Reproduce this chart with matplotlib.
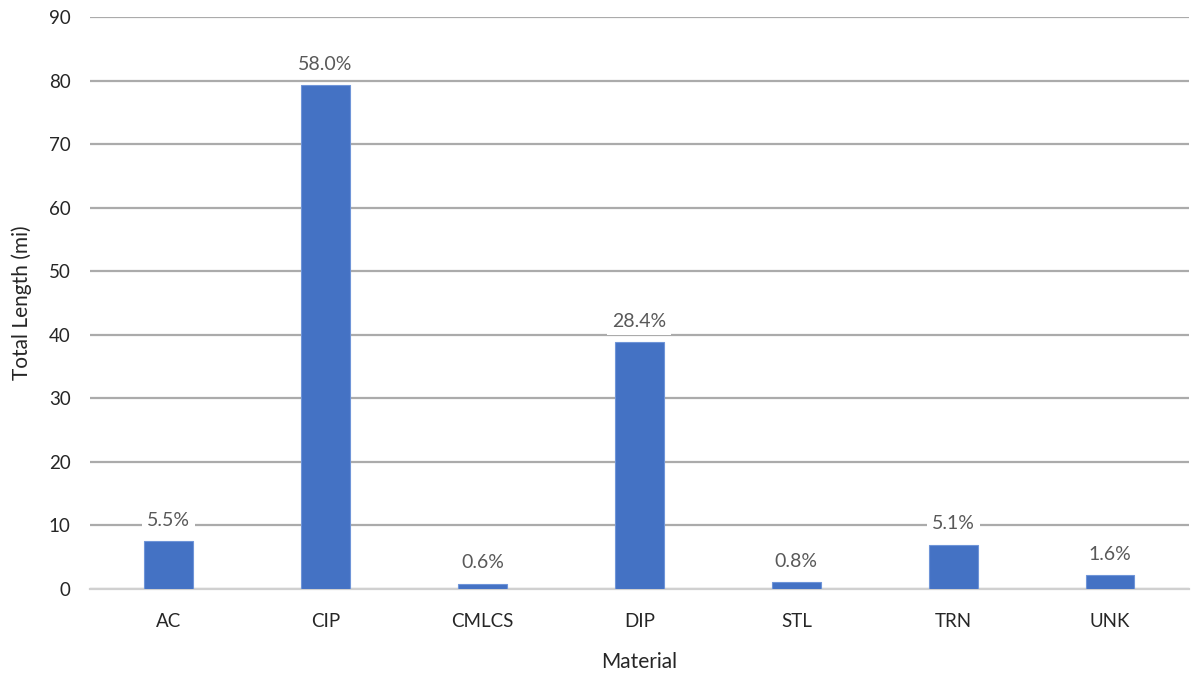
import matplotlib
matplotlib.use("Agg")
import matplotlib.pyplot as plt

materials = ["AC", "CIP", "CMLCS", "DIP", "STL", "TRN", "UNK"]
length_mi = [7.5, 79.3, 0.82, 38.8, 1.09, 6.97, 2.19]
y_ticks = [0, 10, 20, 30, 40, 50, 60, 70, 80, 90]

plt.rcParams["font.family"] = ["Lato", "DejaVu Sans"]

fig = plt.figure(figsize=(11.91, 6.73), dpi=100)
ax = fig.add_axes([0.0756, 0.1248, 0.9224, 0.8499])

x = range(len(materials))
bars = ax.bar(x, length_mi, width=0.31, color="#4472C4", edgecolor="#6F95D8",
              linewidth=0.8, zorder=3)

ax.set_xlim(-0.5, len(materials) - 0.5)
ax.set_ylim(0, 90)
ax.set_yticks(y_ticks)
ax.set_xticks(list(x))
ax.set_xticklabels(materials)

ax.grid(axis="y", color="#ABABAB", linewidth=1.6, zorder=0)
ax.set_axisbelow(True)
for side in ("top", "right", "left"):
    ax.spines[side].set_visible(False)
ax.spines["bottom"].set_color("#D0D0D0")
ax.spines["bottom"].set_linewidth(1.6)
ax.tick_params(axis="both", length=0, labelsize=13.5, labelcolor="#262626")
ax.tick_params(axis="x", pad=17)
ax.tick_params(axis="y", pad=14)

ax.set_xlabel("Material", fontsize=15, color="#262626", labelpad=16)
ax.set_ylabel("Total Length (mi)", fontsize=15, color="#262626", labelpad=12)

total = sum(length_mi)
for xi, v in zip(x, length_mi):
    pct = v / total * 100
    ax.annotate(f"{pct:.1f}%", xy=(xi, v), xytext=(0, 9), textcoords="offset points",
                ha="center", va="bottom", fontsize=14, color="#595959",
                bbox=dict(boxstyle="square,pad=0.25", facecolor="white", edgecolor="none"),
                zorder=4)

fig.savefig("out.png", dpi=100, facecolor="white")
